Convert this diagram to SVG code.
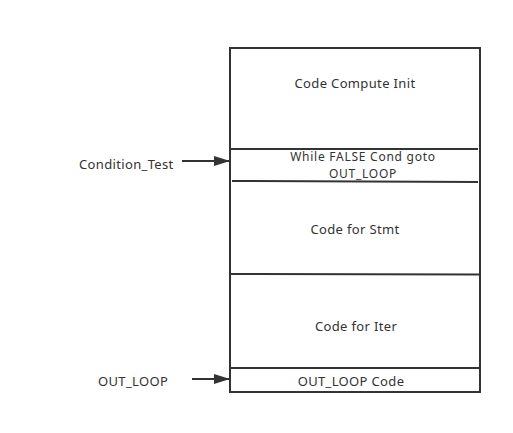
<svg xmlns="http://www.w3.org/2000/svg" width="513" height="433" viewBox="0 0 513 433">
<style>
text{font-family:"Noto Sans","DejaVu Sans",sans-serif;font-size:13px;letter-spacing:0.35px;fill:#333}
.c{text-anchor:middle}
.s{font-size:12px;letter-spacing:0.75px}
.ln{stroke:#333;stroke-width:2;fill:none}
.box{stroke:#333;stroke-width:2;fill:#fff}
</style>
<defs>
<marker id="ah" markerWidth="16" markerHeight="10" refX="16" refY="5" orient="auto" markerUnits="userSpaceOnUse">
<path d="M0,0 L16,5 L0,10 Z" fill="#333"/>
</marker>
</defs>
<rect width="513" height="433" fill="#fff"/>
<g id="stack">
<rect class="box" x="230" y="48" width="250" height="344"/>
<line class="ln" x1="230" y1="149" x2="478" y2="149"/>
<line class="ln" x1="232" y1="181" x2="478" y2="182"/>
<line class="ln" x1="230" y1="274" x2="480" y2="274.5"/>
<line class="ln" x1="230" y1="368" x2="480" y2="368"/>
</g>
<g id="init"><text class="c" x="355" y="88">Code Compute Init</text></g>
<g id="cond"><text class="c s" x="363" y="161">While FALSE Cond goto</text><text class="c s" x="363" y="177.5">OUT_LOOP</text></g>
<g id="stmt"><text class="c" x="355" y="234">Code for Stmt</text></g>
<g id="iter"><text class="c" x="356" y="331">Code for Iter</text></g>
<g id="outcode"><text class="c" x="351" y="386">OUT_LOOP Code</text></g>
<g id="label-cond"><text x="79" y="169">Condition_Test</text></g>
<g id="label-out"><text x="98" y="386">OUT_LOOP</text></g>
<g id="connectors">
<line class="ln" x1="182" y1="161" x2="230" y2="161" marker-end="url(#ah)"/>
<line class="ln" x1="192" y1="379" x2="230" y2="379" marker-end="url(#ah)"/>
</g>
</svg>
